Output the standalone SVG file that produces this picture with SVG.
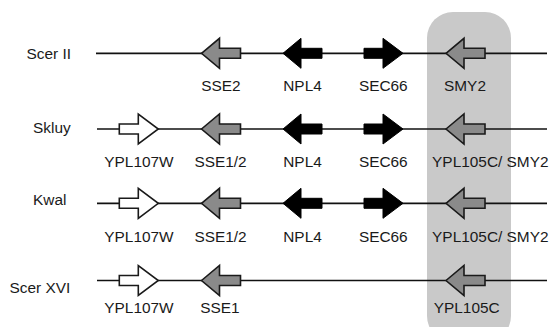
<svg xmlns="http://www.w3.org/2000/svg" xmlns:xlink="http://www.w3.org/1999/xlink" width="554" height="327" viewBox="0 0 554 327">
  <style>
    .lbl { font-family: "Liberation Sans", Arial, sans-serif; font-size: 15.4px; fill: #1a1a1a; }
    .mid { text-anchor: middle; }
    .chrom { stroke: #111; stroke-width: 1.7; fill: none; }
    .blk { fill: #000; stroke: #000; stroke-width: 1; }
    .gry { fill: #8a8a8a; stroke: #1a1a1a; stroke-width: 1.6; stroke-linejoin: miter; }
    .wht { fill: #fff; stroke: #1a1a1a; stroke-width: 1.6; stroke-linejoin: miter; }
  </style>
  <defs>
    <!-- gene arrows: forward (points right) and reverse (points left), origin at left end on the axis -->
    <path id="fwd" d="M0,-5 H19 V-15 L39,0 L19,15 V5 H0 Z"/>
    <path id="rev" d="M0,0 L18,-15 V-5 H39 V5 H18 V15 Z"/>
  </defs>
  <rect width="554" height="327" fill="#fff"/>

  <!-- shaded syntenic column -->
  <rect id="highlight" x="427" y="12" width="84" height="330" rx="26" ry="26" fill="#c9c9c9"/>

  <!-- chromosome segments -->
  <g id="connectors">
    <line class="chrom" x1="96" y1="53.3" x2="547" y2="53.3"/>
    <line class="chrom" x1="97" y1="129" x2="547" y2="129"/>
    <line class="chrom" x1="97" y1="203.3" x2="547" y2="203.3"/>
    <line class="chrom" x1="97" y1="280.5" x2="547" y2="280.5"/>
  </g>

  <!-- species names -->
  <g id="species">
    <text class="lbl" x="26.5" y="58.5">Scer II</text>
    <text class="lbl" x="33" y="132.8">Skluy</text>
    <text class="lbl" x="33" y="205">Kwal</text>
    <text class="lbl" x="9.5" y="292.5">Scer XVI</text>
  </g>

  <!-- Scer II -->
  <g id="scer2-sse2"><use href="#rev" class="gry" x="201.5" y="53.3"/><text class="lbl mid" x="221" y="90.5">SSE2</text></g>
  <g id="scer2-npl4"><use href="#rev" class="blk" x="283" y="53.3"/><text class="lbl mid" x="302.5" y="90.5">NPL4</text></g>
  <g id="scer2-sec66"><use href="#fwd" class="blk" x="364" y="53.3"/><text class="lbl mid" x="383.3" y="90.5">SEC66</text></g>
  <g id="scer2-smy2"><use href="#rev" class="gry" x="446" y="53.3"/><text class="lbl mid" x="465" y="90.5">SMY2</text></g>

  <!-- Skluy -->
  <g id="skluy-ypl107w"><use href="#fwd" class="wht" x="119.3" y="129"/><text class="lbl mid" x="139" y="166.5">YPL107W</text></g>
  <g id="skluy-sse12"><use href="#rev" class="gry" x="201.5" y="129"/><text class="lbl mid" x="220.5" y="166.5">SSE1/2</text></g>
  <g id="skluy-npl4"><use href="#rev" class="blk" x="283" y="129"/><text class="lbl mid" x="302.5" y="166.5">NPL4</text></g>
  <g id="skluy-sec66"><use href="#fwd" class="blk" x="364" y="129"/><text class="lbl mid" x="383.3" y="166.5">SEC66</text></g>
  <g id="skluy-ypl105c"><use href="#rev" class="gry" x="446" y="129"/><text class="lbl mid" x="490.3" y="166.5">YPL105C/ SMY2</text></g>

  <!-- Kwal -->
  <g id="kwal-ypl107w"><use href="#fwd" class="wht" x="119.3" y="203.3"/><text class="lbl mid" x="139" y="241.5">YPL107W</text></g>
  <g id="kwal-sse12"><use href="#rev" class="gry" x="201.5" y="203.3"/><text class="lbl mid" x="220.5" y="241.5">SSE1/2</text></g>
  <g id="kwal-npl4"><use href="#rev" class="blk" x="283" y="203.3"/><text class="lbl mid" x="302.5" y="241.5">NPL4</text></g>
  <g id="kwal-sec66"><use href="#fwd" class="blk" x="364" y="203.3"/><text class="lbl mid" x="383.3" y="241.5">SEC66</text></g>
  <g id="kwal-ypl105c"><use href="#rev" class="gry" x="446" y="203.3"/><text class="lbl mid" x="490.3" y="241.5">YPL105C/ SMY2</text></g>

  <!-- Scer XVI -->
  <g id="scer16-ypl107w"><use href="#fwd" class="wht" x="119.3" y="280.5"/><text class="lbl mid" x="139" y="313.3">YPL107W</text></g>
  <g id="scer16-sse1"><use href="#rev" class="gry" x="201.5" y="280.5"/><text class="lbl mid" x="220" y="313.3">SSE1</text></g>
  <g id="scer16-ypl105c"><use href="#rev" class="gry" x="446" y="280.5"/><text class="lbl mid" x="466.7" y="313.3">YPL105C</text></g>
</svg>
